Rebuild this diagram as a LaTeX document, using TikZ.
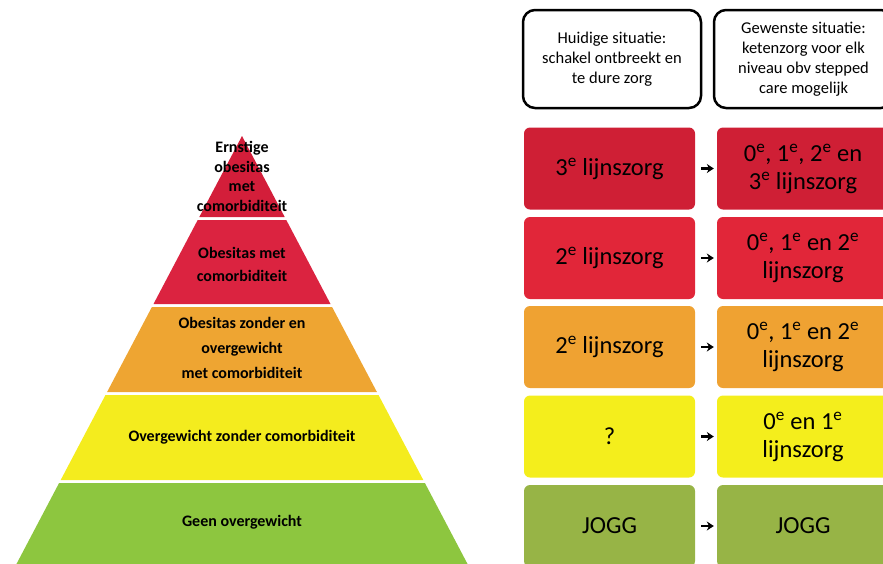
\documentclass[tikz,border=0pt]{standalone}
\usepackage{fontspec}
\setmainfont{Carlito}
\usetikzlibrary{arrows.meta}
\definecolor{pyrcrimson}{HTML}{D31E3A}
\definecolor{pyrred}{HTML}{DB2340}
\definecolor{pyrorange}{HTML}{EEA532}
\definecolor{pyryellow}{HTML}{F4EC1E}
\definecolor{pyrgreen}{HTML}{8DC63F}
\definecolor{carecrimson}{HTML}{CF1F35}
\definecolor{carered}{HTML}{E12639}
\definecolor{careorange}{HTML}{EFA232}
\definecolor{careyellow}{HTML}{F4EE1C}
\definecolor{caregreen}{HTML}{97B446}

\tikzset{
  headbox/.style={draw=black, line width=2.5pt, rounded corners=12pt, fill=white,
    minimum height=98pt, align=center, inner sep=0pt,
    font=\fontsize{16.5}{20}\selectfont},
  carebox/.style={rounded corners=6pt, minimum height=82pt, align=center,
    inner sep=0pt, font=\fontsize{24.5}{28}\selectfont},
  bandtext/.style={align=center, font=\bfseries\fontsize{16}{19.5}\selectfont},
  stepup/.style={-{Stealth[length=7pt,width=9pt]}, line width=2.2pt,
    shorten <=6pt, shorten >=3pt}
}

\begin{document}
\begin{tikzpicture}[x=1pt, y=-1pt]
    \useasboundingbox (0,0) rectangle (883,563);
    \clip (0,0) rectangle (883,563);

    % Pyramid bands
    \fill[pyrcrimson] (242,136) -- (284.7,217) -- (199.3,217) -- cycle;
    \fill[pyrred] (197.7,220) -- (286.3,220) -- (330.5,304) -- (153.5,304) -- cycle;
    \fill[pyrorange] (151.9,307) -- (332.1,307) -- (376.9,392) -- (107.1,392) -- cycle;
    \fill[pyryellow] (105.5,395) -- (378.5,395) -- (423.3,480) -- (60.7,480) -- cycle;
    \fill[pyrgreen] (59.1,483) -- (424.9,483) -- (470.7,570) -- (13.3,570) -- cycle;

    % Pyramid labels
    \node[bandtext] (lvl1) at (242,176.5) {Ernstige\\obesitas\\met\\comorbiditeit};
    \node[bandtext, font=\bfseries\fontsize{16}{23}\selectfont] (lvl2) at (242,264.5) {Obesitas met\\comorbiditeit};
    \node[bandtext, font=\bfseries\fontsize{16}{25}\selectfont] (lvl3) at (242,348) {Obesitas zonder en\\overgewicht\\met comorbiditeit};
    \node[bandtext] (lvl4) at (242,437) {Overgewicht zonder comorbiditeit};
    \node[bandtext] (lvl5) at (242,522) {Geen overgewicht};

    % Column headers
    \node[headbox, minimum width=178pt] (hdrnow) at (612,59) {Huidige situatie:\\schakel ontbreekt en\\te dure zorg};
    \node[headbox, minimum width=179pt] (hdrgoal) at (803.5,59) {Gewenste situatie:\\ketenzorg voor elk\\niveau obv stepped\\care mogelijk};

    % Current care
    \node[carebox, fill=carecrimson, minimum width=171pt] (now1) at (609.5,168.5) {3\textsuperscript{e} lijnszorg};
    \node[carebox, fill=carered, minimum width=171pt] (now2) at (609.5,258) {2\textsuperscript{e} lijnszorg};
    \node[carebox, fill=careorange, minimum width=171pt] (now3) at (609.5,347) {2\textsuperscript{e} lijnszorg};
    \node[carebox, fill=careyellow, minimum width=171pt] (now4) at (609.5,436.5) {?};
    \node[carebox, fill=caregreen, minimum width=171pt] (now5) at (609.5,526) {JOGG};

    % Desired care
    \node[carebox, fill=carecrimson, minimum width=172pt] (goal1) at (803,168.5) {0\textsuperscript{e}, 1\textsuperscript{e}, 2\textsuperscript{e} en\\3\textsuperscript{e} lijnszorg};
    \node[carebox, fill=carered, minimum width=172pt] (goal2) at (803,258) {0\textsuperscript{e}, 1\textsuperscript{e} en 2\textsuperscript{e}\\lijnszorg};
    \node[carebox, fill=careorange, minimum width=172pt] (goal3) at (803,347) {0\textsuperscript{e}, 1\textsuperscript{e} en 2\textsuperscript{e}\\lijnszorg};
    \node[carebox, fill=careyellow, minimum width=172pt] (goal4) at (803,436.5) {0\textsuperscript{e} en 1\textsuperscript{e}\\lijnszorg};
    \node[carebox, fill=caregreen, minimum width=172pt] (goal5) at (803,526) {JOGG};

    % Arrows
    \draw[stepup] (now1) -- (goal1);
    \draw[stepup] (now2) -- (goal2);
    \draw[stepup] (now3) -- (goal3);
    \draw[stepup] (now4) -- (goal4);
    \draw[stepup] (now5) -- (goal5);
\end{tikzpicture}
\end{document}
